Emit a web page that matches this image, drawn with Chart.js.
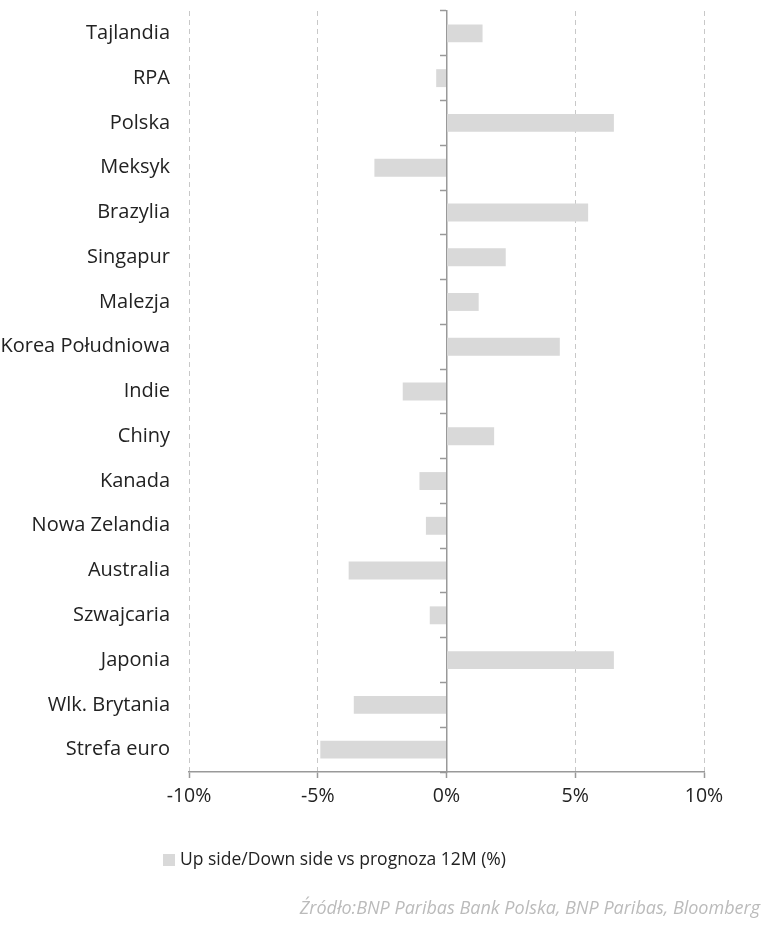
<!DOCTYPE html>
<html lang="pl">
<head>
<meta charset="utf-8">
<script src="https://cdn.jsdelivr.net/npm/chart.js@4"></script>
<style>
  html, body { margin: 0; padding: 0; background: #fff; }
  #wrap { position: relative; width: 765px; height: 925px; font-family: "Open Sans", sans-serif; }
  #wykres { position: absolute; left: 0; top: 0; }
  #legenda { position: absolute; left: 163px; top: 846px; font-size: 17.5px; color: #222; white-space: nowrap; }
  #legenda span.box { display: inline-block; width: 12px; height: 12px; background: #d9d9d9; margin-right: 5px; vertical-align: -1px; }
  #zrodlo { position: absolute; right: 5px; top: 895px; font-size: 18px; font-style: italic; color: #bbb; white-space: nowrap; }
</style>
</head>
<body>
<div id="wrap">
  <canvas id="wykres" width="765" height="925"></canvas>
  <div id="legenda"><span class="box"></span>Up side/Down side vs prognoza 12M (%)</div>
  <div id="zrodlo">Źródło:BNP Paribas Bank Polska, BNP Paribas, Bloomberg</div>
</div>
<script>
// --- DANE ---
const kraje = ['Tajlandia', 'RPA', 'Polska', 'Meksyk', 'Brazylia', 'Singapur', 'Malezja',
  'Korea Południowa', 'Indie', 'Chiny', 'Kanada', 'Nowa Zelandia', 'Australia',
  'Szwajcaria', 'Japonia', 'Wlk. Brytania', 'Strefa euro'];
const upDownSide = [1.4, -0.4, 6.5, -2.8, 5.5, 2.3, 1.25, 4.4, -1.7, 1.85, -1.05, -0.8, -3.8, -0.65, 6.5, -3.6, -4.9];
const etykietaSerii = 'Up side/Down side vs prognoza 12M (%)';
const osX = { min: -10, max: 10, krok: 5 };

const szary = '#999';
const czcionka = '"Open Sans", sans-serif';

// bez dodatkowego marginesu od połówek etykiet
function bezMarginesu(s) {
  s.paddingTop = 0;
  s.paddingBottom = 0;
}

new Chart(document.getElementById('wykres'), {
  type: 'bar',
  data: {
    labels: kraje,
    datasets: [{
      label: etykietaSerii,
      data: upDownSide,
      backgroundColor: '#d9d9d9',
      borderWidth: 0,
      barPercentage: 0.4,
      categoryPercentage: 1.0
    }]
  },
  options: {
    indexAxis: 'y',
    responsive: false,
    animation: false,
    layout: { padding: { top: 11, right: 61, left: 0, bottom: 123 } },
    plugins: {
      legend: { display: false },
      tooltip: { enabled: false }
    },
    scales: {
      x: {
        min: osX.min,
        max: osX.max,
        afterFit: s => { s.height = 30; },
        ticks: {
          stepSize: osX.krok,
          callback: v => v + '%',
          color: '#222',
          font: { family: czcionka, size: 19.5 },
          padding: 7
        },
        grid: {
          // linia zera rysowana przez oś y2
          color: ctx => (ctx.tick && ctx.tick.value === 0) ? 'rgba(0,0,0,0)' : '#c8c8c8',
          lineWidth: 1,
          tickColor: szary,
          tickLength: 6,
          tickWidth: 1.5
        },
        border: { display: true, color: szary, width: 1.5, dash: [5, 4] }
      },
      y: {
        afterFit: s => { s.width = 189; bezMarginesu(s); },
        grid: { display: false },
        border: { display: false },
        ticks: {
          autoSkip: false,
          color: '#222',
          font: { family: czcionka, size: 20 },
          padding: 11
        }
      },
      y2: {
        type: 'category',
        axis: 'y',
        labels: kraje,
        offset: true,
        position: { x: 0 },
        afterFit: bezMarginesu,
        ticks: { display: false },
        grid: {
          offset: true,
          drawOnChartArea: false,
          drawTicks: true,
          tickLength: 6,
          tickColor: szary,
          tickWidth: 1.5
        },
        border: { display: true, color: szary, width: 1.5 }
      }
    }
  }
});
</script>
</body>
</html>
